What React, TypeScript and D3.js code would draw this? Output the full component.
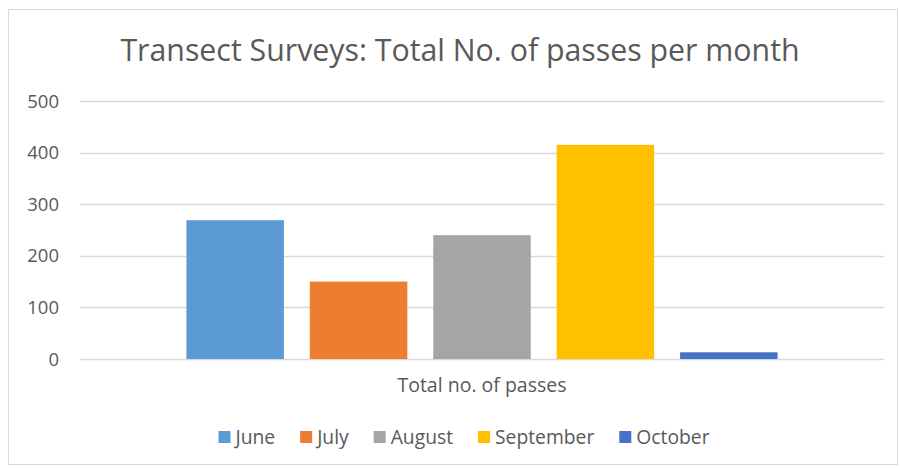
import React, { useEffect, useRef } from 'react';
import * as d3 from 'd3';

const months = ['June', 'July', 'August', 'September', 'October'];
const passes = [269, 150, 240, 415, 13];
const colors = ['#5b9bd5', '#ed7d31', '#a5a5a5', '#ffc000', '#4472c4'];
const yTicks = [0, 100, 200, 300, 400, 500];
const groupLabel = 'Total no. of passes';
const title = 'Transect Surveys: Total No. of passes per month';

const FONT = '"Open Sans", "Noto Sans", sans-serif';

const App = () => {
  const svgRef = useRef<SVGSVGElement>(null);
  const width = 900;
  const height = 468;

  useEffect(() => {
    const svg = d3.select(svgRef.current);
    svg.selectAll('*').remove();

    const plot = { left: 80, right: 884, top: 101, bottom: 359 };

    // outer frame
    svg.append('rect')
      .attr('x', 8.5).attr('y', 9.5)
      .attr('width', 889).attr('height', 455)
      .attr('fill', '#fff').attr('stroke', '#d9d9d9');

    const y = d3.scaleLinear().domain([0, 500]).range([plot.bottom, plot.top]);
    const x0 = d3.scaleBand().domain([groupLabel]).range([plot.left, plot.right]).paddingOuter(0.18).paddingInner(0);
    const x1 = d3.scaleBand().domain(months).range([0, x0.bandwidth()]).paddingInner(0.21).paddingOuter(0);
    const color = d3.scaleOrdinal<string, string>().domain(months).range(colors);

    // gridlines
    svg.append('g')
      .selectAll('line')
      .data(yTicks)
      .enter().append('line')
      .attr('x1', plot.left).attr('x2', plot.right)
      .attr('y1', d => Math.round(y(d)) + 0.5).attr('y2', d => Math.round(y(d)) + 0.5)
      .attr('stroke', '#d9d9d9').attr('stroke-width', 1.3);

    // y tick labels
    svg.append('g')
      .selectAll('text')
      .data(yTicks)
      .enter().append('text')
      .attr('x', 59).attr('y', d => y(d) + 6.5)
      .attr('text-anchor', 'end')
      .attr('font-family', FONT).attr('font-size', 18.5)
      .attr('fill', '#595959')
      .text(d => d);

    // bars
    const g = svg.append('g').attr('transform', `translate(${x0(groupLabel)},0)`);
    g.selectAll('rect')
      .data(months.map((m, i) => ({ month: m, value: passes[i] })))
      .enter().append('rect')
      .attr('x', d => x1(d.month)!)
      .attr('y', d => y(d.value))
      .attr('width', x1.bandwidth())
      .attr('height', d => y(0) - y(d.value))
      .attr('fill', d => color(d.month));

    // category label
    svg.append('text')
      .attr('x', x0(groupLabel)! + x0.bandwidth() / 2).attr('y', 392)
      .attr('text-anchor', 'middle')
      .attr('font-family', FONT).attr('font-size', 19.5)
      .attr('fill', '#595959')
      .text(groupLabel);

    // title
    svg.append('text')
      .attr('x', 460).attr('y', 61)
      .attr('text-anchor', 'middle')
      .attr('font-family', FONT).attr('font-size', 30.3)
      .attr('fill', '#595959')
      .text(title);

    // legend
    const legend = svg.append('g');
    const items = legend.selectAll('g')
      .data(months)
      .enter().append('g');
    items.append('rect')
      .attr('width', 12).attr('height', 12)
      .attr('y', 431)
      .attr('fill', d => color(d));
    items.append('text')
      .attr('x', 17).attr('y', 444)
      .attr('font-family', FONT).attr('font-size', 19.3)
      .attr('fill', '#595959')
      .text(d => d);

    const widths: number[] = [];
    items.each(function () {
      const t = d3.select(this).select('text').node() as SVGTextElement;
      widths.push(17 + t.getComputedTextLength());
    });
    const gap = 25;
    const total = d3.sum(widths) + gap * (widths.length - 1);
    let cx = 464 - total / 2;
    items.attr('transform', (_, i) => {
      const tx = cx;
      cx += widths[i] + gap;
      return `translate(${tx},0)`;
    });
  }, []);

  return (
    <svg ref={svgRef} width={width} height={height}
      style={{ position: 'absolute', left: 0, top: 0, background: '#fff' }} />
  );
};

export default App;
